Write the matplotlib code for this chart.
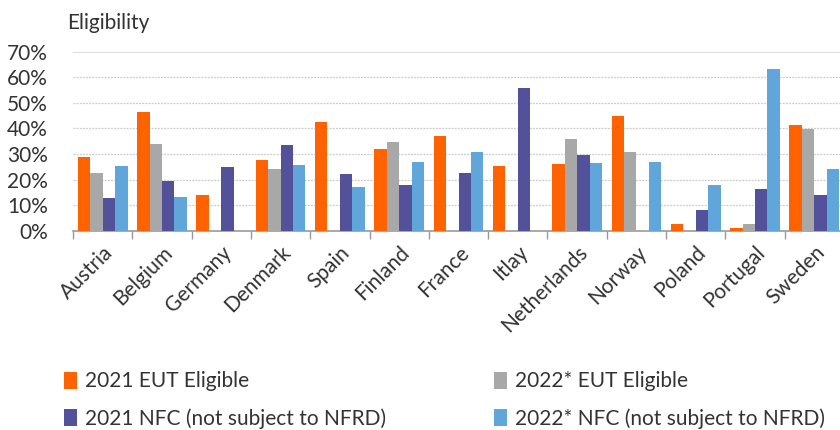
import matplotlib
matplotlib.use("Agg")
import matplotlib.pyplot as plt
import numpy as np
from matplotlib.patches import Patch

countries = ["Austria", "Belgium", "Germany", "Denmark", "Spain", "Finland", "France",
             "Itlay", "Netherlands", "Norway", "Poland", "Portugal", "Sweden"]
eut_2021 = [28.8, 46.5, 13.9, 27.7, 42.7, 31.9, 37.2, 25.5, 26.0, 45.0, 2.7, 1.3, 41.4]
eut_2022 = [22.6, 33.8, 0.0, 24.0, 0.0, 34.8, 0.0, 0.0, 35.7, 31.0, 0.4, 2.7, 39.9]
nfc_2021 = [12.8, 19.4, 25.0, 33.4, 22.3, 18.1, 22.6, 55.6, 29.7, 0.0, 8.2, 16.2, 13.9]
nfc_2022 = [25.5, 13.4, 0.0, 25.9, 17.1, 27.0, 31.0, 0.0, 26.4, 27.0, 18.1, 63.2, 24.1]
series_names = ["2021 EUT Eligible", "2022* EUT Eligible",
                "2021 NFC (not subject to NFRD)", "2022* NFC (not subject to NFRD)"]
yticks = [0, 10, 20, 30, 40, 50, 60, 70]

colors = ["#FF6200", "#A8A8A8", "#525199", "#60A6DA"]
text_color = "#333333"
fs = 15
plt.rcParams["font.family"] = ["Lato", "DejaVu Sans"]

fig = plt.figure(figsize=(8.4, 4.3), dpi=100)
ax = fig.add_axes([73 / 840, 199 / 430, 771 / 840, 179.5 / 430])

x = np.arange(len(countries))
width = 0.21
series = [eut_2021, eut_2022, nfc_2021, nfc_2022]
for i, (vals, c) in enumerate(zip(series, colors)):
    ax.bar(x + (i - 1.5) * width, vals, width=width, color=c, zorder=3)

ax.set_xlim(-0.5, len(countries) - 0.5)
ax.set_ylim(0, 70)
ax.set_yticks(yticks)
ax.set_yticklabels([f"{v}%" for v in yticks], fontsize=fs, color=text_color)
ax.tick_params(axis="y", length=0, pad=18)

for v in yticks[1:]:
    if v == 70:
        ax.axhline(v, color="#dddddd", lw=1.4, zorder=1)
    else:
        ax.axhline(v, color="#cccccc", lw=0.9, ls=(0, (1.5, 1)), zorder=1)

ax.set_xticks(x)
ax.set_xticklabels(countries, rotation=45, ha="right", rotation_mode="anchor",
                   fontsize=fs, color=text_color)
ax.tick_params(axis="x", which="major", length=0, pad=8)
ax.set_xticks(np.arange(-0.5, len(countries) + 0.5, 1), minor=True)
ax.tick_params(axis="x", which="minor", length=6, width=1, color="#999999", direction="out")

for s in ["top", "right", "left"]:
    ax.spines[s].set_visible(False)
ax.spines["bottom"].set_color("#999999")
ax.spines["bottom"].set_linewidth(1.2)

fig.text(67 / 840, 1 - 23 / 430, "Eligibility", fontsize=fs, color=text_color, va="center")

handles = [Patch(facecolor=c, edgecolor="none") for c in colors]
leg_kw = dict(frameon=False, fontsize=fs, labelcolor=text_color, handlelength=0.6,
              handleheight=0.9, handletextpad=0.4, labelspacing=0.8, loc="center left",
              borderaxespad=0, borderpad=0)
leg1 = fig.legend([handles[0], handles[2]], [series_names[0], series_names[2]],
                  bbox_to_anchor=(64 / 840, 1 - 400 / 430), **leg_kw)
leg2 = fig.legend([handles[1], handles[3]], [series_names[1], series_names[3]],
                  bbox_to_anchor=(494 / 840, 1 - 400 / 430), **leg_kw)

fig.savefig("out.png", dpi=100)
